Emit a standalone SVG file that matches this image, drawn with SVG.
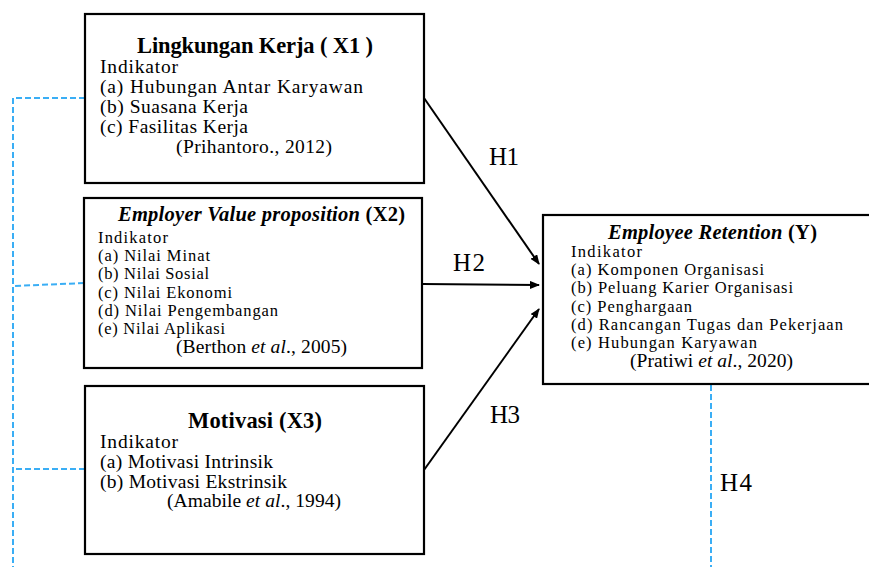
<svg xmlns="http://www.w3.org/2000/svg" width="869" height="567" viewBox="0 0 869 567">
<defs>
<marker id="ah" markerWidth="10" markerHeight="8" refX="9" refY="4" orient="auto" markerUnits="userSpaceOnUse">
<path d="M0,0 L10,4 L0,8 Z" fill="#000"/>
</marker>
<style>
.box{fill:#fff;stroke:#000;stroke-width:2.2}
text{font-family:"Liberation Serif","Times New Roman",serif;fill:#000}
.t{font-weight:bold;text-anchor:middle}
.b{font-size:19.5px}
.s{font-size:16.5px}
.h{font-size:25px}
.conn{stroke:#000;stroke-width:2;fill:none}
.dash{stroke:#3aaef5;stroke-width:2;fill:none;stroke-dasharray:6 3}
</style>
</defs>
<g id="connectors">
<path class="dash" d="M85,98 H13 V567"/>
<path class="dash" d="M84,283 L13,286"/>
<path class="dash" d="M85,469 H13"/>
<path class="dash" d="M711,385 V567"/>
<line class="conn" x1="424" y1="98" x2="539" y2="264" marker-end="url(#ah)"/>
<line class="conn" x1="422" y1="284" x2="539" y2="285" marker-end="url(#ah)"/>
<line class="conn" x1="424" y1="470" x2="539" y2="309" marker-end="url(#ah)"/>
<text class="h" x="489" y="165" textLength="30">H1</text>
<text class="h" x="453" y="271" textLength="32">H2</text>
<text class="h" x="490" y="423" textLength="30">H3</text>
<text class="h" x="720" y="491" textLength="32">H4</text>
</g>
<g id="x1">
<rect class="box" x="85" y="14" width="339" height="169"/>
<text class="t" x="255" y="53" font-size="22.5" textLength="236">Lingkungan Kerja ( X1 )</text>
<text class="b" x="100" y="73" textLength="78">Indikator</text>
<text class="b" x="100" y="93" textLength="263">(a) Hubungan Antar Karyawan</text>
<text class="b" x="100" y="113" textLength="148">(b) Suasana Kerja</text>
<text class="b" x="100" y="133" textLength="148">(c) Fasilitas Kerja</text>
<text class="b" x="176" y="153" textLength="156">(Prihantoro., 2012)</text>
</g>
<g id="x2">
<rect class="box" x="84" y="198" width="338" height="170"/>
<text x="118" y="221" font-size="20.5" font-weight="bold" textLength="287"><tspan font-style="italic">Employer Value proposition</tspan> (X2)</text>
<text class="s" x="98" y="243" textLength="70">Indikator</text>
<text class="s" x="98" y="261" textLength="112">(a) Nilai Minat</text>
<text class="s" x="98" y="279" textLength="111">(b) Nilai Sosial</text>
<text class="s" x="98" y="298" textLength="134">(c) Nilai Ekonomi</text>
<text class="s" x="98" y="316" textLength="180">(d) Nilai Pengembangan</text>
<text class="s" x="98" y="334" textLength="127">(e) Nilai Aplikasi</text>
<text class="b" x="176" y="353" textLength="171">(Berthon <tspan font-style="italic">et al</tspan>., 2005)</text>
</g>
<g id="x3">
<rect class="box" x="85" y="386" width="339" height="168"/>
<text class="t" x="255" y="428" font-size="22.5" textLength="134">Motivasi (X3)</text>
<text class="b" x="100" y="448" textLength="78">Indikator</text>
<text class="b" x="100" y="468" textLength="173">(a) Motivasi Intrinsik</text>
<text class="b" x="100" y="488" textLength="187">(b) Motivasi Ekstrinsik</text>
<text class="b" x="167" y="507" textLength="174">(Amabile <tspan font-style="italic">et al</tspan>., 1994)</text>
</g>
<g id="y">
<rect class="box" x="543" y="215" width="340" height="169"/>
<text x="608" y="239" font-size="20.5" font-weight="bold" textLength="209"><tspan font-style="italic">Employee Retention</tspan> (Y)</text>
<text class="s" x="571" y="257" textLength="71">Indikator</text>
<text class="s" x="571" y="275" textLength="193">(a) Komponen Organisasi</text>
<text class="s" x="571" y="293" textLength="222">(b) Peluang Karier Organisasi</text>
<text class="s" x="571" y="312" textLength="121">(c) Penghargaan</text>
<text class="s" x="571" y="330" textLength="272">(d) Rancangan Tugas dan Pekerjaan</text>
<text class="s" x="571" y="348" textLength="186">(e) Hubungan Karyawan</text>
<text class="b" x="630" y="367" textLength="163">(Pratiwi <tspan font-style="italic">et al</tspan>., 2020)</text>
</g>
</svg>
